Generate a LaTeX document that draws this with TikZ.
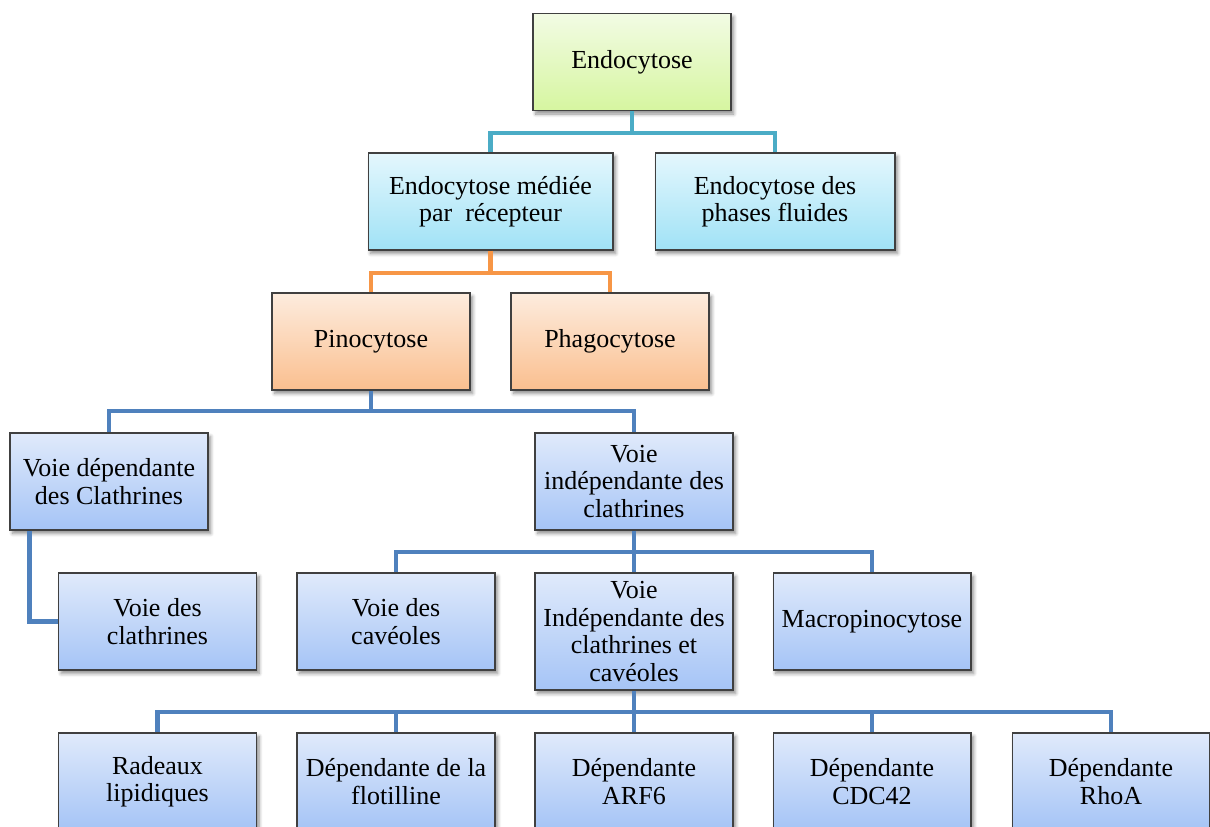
\documentclass[tikz,border=0pt]{standalone}
\usepackage{fontspec}
\setmainfont{Liberation Serif}
\usetikzlibrary{shadows.blur}
\definecolor{TealLnk}{RGB}{75,172,198}
\definecolor{OrangeLnk}{RGB}{247,150,70}
\definecolor{BlueLnk}{RGB}{79,129,189}
\definecolor{GreenTop}{RGB}{242,251,228}
\definecolor{GreenBot}{RGB}{214,246,160}
\definecolor{CyanTop}{RGB}{228,247,253}
\definecolor{CyanBot}{RGB}{160,226,246}
\definecolor{PeachTop}{RGB}{253,236,222}
\definecolor{PeachBot}{RGB}{250,191,143}
\definecolor{BlueTop}{RGB}{224,234,251}
\definecolor{BlueBot}{RGB}{165,196,246}
\definecolor{BoxLine}{RGB}{64,64,64}

\tikzset{
  box/.style={draw=BoxLine, line width=0.6pt, align=center,
    minimum width=3.96cm, minimum height=1.94cm, inner sep=1pt,
    font=\fontsize{14.8}{15.6}\selectfont,
    blur shadow={shadow xshift=1.5pt, shadow yshift=-2pt,
      shadow blur radius=2pt, shadow blur steps=6, shadow opacity=45}},
  greenbox/.style={box, top color=GreenTop, bottom color=GreenBot},
  cyanbox/.style={box, top color=CyanTop, bottom color=CyanBot},
  peachbox/.style={box, top color=PeachTop, bottom color=PeachBot},
  bluebox/.style={box, top color=BlueTop, bottom color=BlueBot},
  link/.style={line width=2.8pt},
}

\begin{document}
\begin{tikzpicture}[x=0.02cm, y=-0.02cm]
\clip (0,0) rectangle (1210,827);

% level 0 and 1
\node[greenbox] (endo) at (632,62) {Endocytose};
\node[cyanbox, minimum width=4.9cm] (med) at (490.5,201.5) {Endocytose médiée\\par\ \ récepteur};
\node[cyanbox, minimum width=4.8cm] (fluid) at (775,201.5) {Endocytose des\\phases fluides};

% level 2
\node[peachbox] (pino) at (371,341.5) {Pinocytose};
\node[peachbox] (phago) at (610,341.5) {Phagocytose};

% level 3
\node[bluebox] (vdc) at (109,481.5) {Voie dépendante\\des Clathrines};
\node[bluebox] (vic) at (634,481.5) {Voie\\indépendante des\\clathrines};

% level 4
\node[bluebox] (vcl) at (157.5,621.5) {Voie des\\clathrines};
\node[bluebox] (cav) at (396,621.5) {Voie des\\cavéoles};
\node[bluebox, minimum height=2.34cm] (vici) at (634,631.5) {Voie\\Indépendante des\\clathrines et\\cavéoles};
\node[bluebox] (macro) at (872,621.5) {Macropinocytose};

% level 5
\node[bluebox] (rad) at (157.5,781.5) {Radeaux\\lipidiques};
\node[bluebox] (flot) at (396,781.5) {Dépendante de la\\flotilline};
\node[bluebox] (arf) at (634,781.5) {Dépendante\\ARF6};
\node[bluebox] (cdc) at (872,781.5) {Dépendante\\CDC42};
\node[bluebox] (rhoa) at (1111,781.5) {Dépendante\\RhoA};

% junctions
\coordinate (j1) at (632,133);
\coordinate (j2) at (490.5,273);
\coordinate (j3) at (371,411);
\coordinate (j4) at (634,552);
\coordinate (j5) at (634,712);

\draw[link, TealLnk] (endo.south) -- (j1);
\draw[link, TealLnk] (med.north) |- (j1) -| (fluid.north);

\draw[link, OrangeLnk] (med.south) -- (j2);
\draw[link, OrangeLnk] (pino.north) |- (j2) -| (phago.north);

\draw[link, BlueLnk] (pino.south) -- (j3);
\draw[link, BlueLnk] (vdc.north) |- (j3) -| (vic.north);
\draw[link, BlueLnk] ([xshift=0.4cm]vdc.south west) |- (vcl.west);

\draw[link, BlueLnk] (vic.south) -- (j4) -- (vici.north);
\draw[link, BlueLnk] (cav.north) |- (j4) -| (macro.north);

\draw[link, BlueLnk] (vici.south) -- (j5) -- (arf.north);
\draw[link, BlueLnk] (rad.north) |- (j5) -| (rhoa.north);
\draw[link, BlueLnk] (flot.north) -- (flot.north |- j5);
\draw[link, BlueLnk] (cdc.north) -- (cdc.north |- j5);

\end{tikzpicture}
\end{document}
